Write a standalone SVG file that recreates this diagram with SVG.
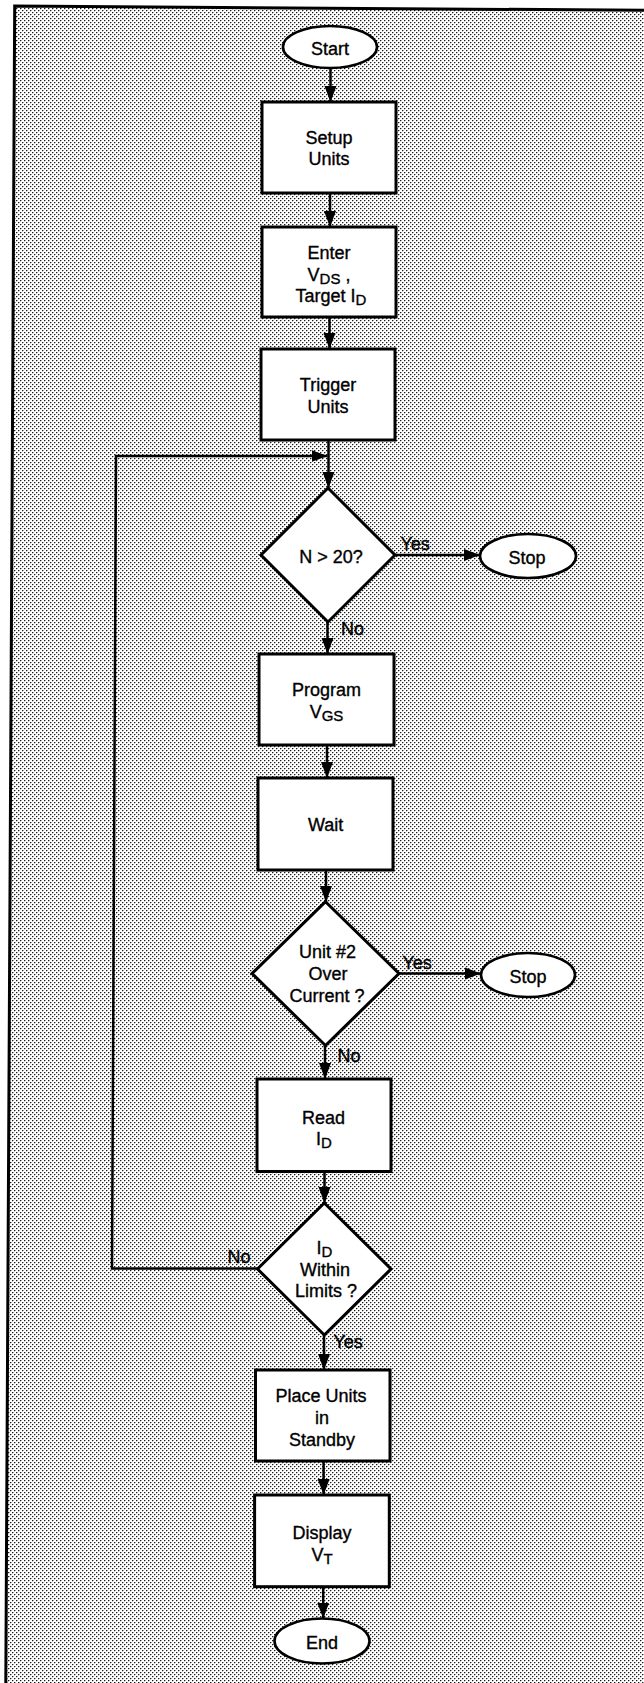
<svg xmlns="http://www.w3.org/2000/svg" width="644" height="1683" viewBox="0 0 644 1683">
  <defs>
    <!-- halftone screen used for the page background -->
    <pattern id="screen" width="4" height="4" patternUnits="userSpaceOnUse">
      <rect width="4" height="4" fill="#fff"/>
      <rect x="0" y="0" width="1" height="1" fill="#1a1a1a"/>
      <rect x="2" y="2" width="1" height="1" fill="#1a1a1a"/>
      <rect x="1" y="0" width="1" height="1" fill="#a8a8a8"/>
      <rect x="3" y="2" width="1" height="1" fill="#a8a8a8"/>
      <rect x="0" y="1" width="1" height="1" fill="#c8c8c8"/>
      <rect x="2" y="3" width="1" height="1" fill="#c8c8c8"/>
    </pattern>
    <marker id="arrow" markerUnits="userSpaceOnUse" markerWidth="17" markerHeight="13" refX="16" refY="6.5" orient="auto">
      <path d="M0,0.5 L16,6.5 L0,12.5 z" fill="#000"/>
    </marker>
    <style>
      .box { fill:#fff; stroke:#000; stroke-width:3; }
      .term { fill:#fff; stroke:#000; stroke-width:2.6; }
      .dec { fill:#fff; stroke:#000; stroke-width:3; stroke-linejoin:miter; }
      .link { fill:none; stroke:#000; stroke-width:2.5; }
      .frame { fill:none; stroke:#000; stroke-width:3; }
      text { font-family:"Liberation Sans", Arial, Helvetica, sans-serif; font-size:18px; fill:#000; stroke:#000; stroke-width:0.35; }
      .c { text-anchor:middle; }
      .e { text-anchor:end; }
      .sub { font-size:15px; }
    </style>
  </defs>

  <!-- page -->
  <rect width="644" height="1683" fill="#fff"/>
  <polygon points="14.7,6 644,10.3 644,1683 5.8,1683" fill="url(#screen)"/>
  <path class="frame" d="M5.8,1683 L14.7,6 L644,10.3"/>

  <!-- connectors -->
  <g id="connectors">
    <path class="link" d="M330.5,68 L330.5,102" marker-end="url(#arrow)"/>
    <path class="link" d="M330,193 L330,227" marker-end="url(#arrow)"/>
    <path class="link" d="M329.5,317 L329.5,349" marker-end="url(#arrow)"/>
    <path class="link" d="M328.5,440 L328.5,488" marker-end="url(#arrow)"/>
    <path class="link" d="M257.5,1268.5 L112,1268.5 L116,456 L327.5,456" marker-end="url(#arrow)"/>
    <path class="link" d="M395,555 L480,555" marker-end="url(#arrow)"/>
    <path class="link" d="M327.5,622 L327.5,654" marker-end="url(#arrow)"/>
    <path class="link" d="M327,745 L327,778" marker-end="url(#arrow)"/>
    <path class="link" d="M326,870 L326,902" marker-end="url(#arrow)"/>
    <path class="link" d="M399,973.5 L481,973.5" marker-end="url(#arrow)"/>
    <path class="link" d="M325,1045 L325,1079" marker-end="url(#arrow)"/>
    <path class="link" d="M324.5,1171 L324.5,1203" marker-end="url(#arrow)"/>
    <path class="link" d="M324,1335 L324,1370" marker-end="url(#arrow)"/>
    <path class="link" d="M323.6,1460 L323.6,1495" marker-end="url(#arrow)"/>
    <path class="link" d="M323.2,1586 L323.2,1618.5" marker-end="url(#arrow)"/>
    <text x="400.5" y="550">Yes</text>
    <text x="341" y="635">No</text>
    <text x="402.5" y="968.5">Yes</text>
    <text x="337.5" y="1061.5">No</text>
    <text class="e" x="250.5" y="1262.5">No</text>
    <text x="333.5" y="1348">Yes</text>
  </g>

  <g id="start">
    <ellipse class="term" cx="330" cy="47" rx="47" ry="21"/>
    <text class="c" x="330" y="55">Start</text>
  </g>

  <g id="setup-units">
    <rect class="box" x="262" y="102" width="134" height="91"/>
    <text class="c" x="329" y="143.5">Setup</text>
    <text class="c" x="329" y="165">Units</text>
  </g>

  <g id="enter-vds">
    <rect class="box" x="262" y="227" width="134" height="90"/>
    <text class="c" x="329" y="259">Enter</text>
    <text class="c" x="329" y="281">V<tspan class="sub" dy="3">DS</tspan><tspan dy="-3"> ,</tspan></text>
    <text class="c" x="331" y="302">Target I<tspan class="sub" dy="3">D</tspan></text>
  </g>

  <g id="trigger-units">
    <rect class="box" x="261" y="349" width="134" height="91"/>
    <text class="c" x="328" y="390.5">Trigger</text>
    <text class="c" x="328" y="412.5">Units</text>
  </g>

  <g id="check-count">
    <polygon class="dec" points="328,488 395,555 328,622 261,555"/>
    <text class="c" x="331" y="562.5">N &gt; 20?</text>
  </g>

  <g id="stop-count">
    <ellipse class="term" cx="528" cy="556" rx="48" ry="22"/>
    <text class="c" x="527" y="563.5">Stop</text>
  </g>

  <g id="program-vgs">
    <rect class="box" x="259" y="654" width="135" height="91"/>
    <text class="c" x="326.5" y="696">Program</text>
    <text class="c" x="326.5" y="718">V<tspan class="sub" dy="3">GS</tspan></text>
  </g>

  <g id="wait">
    <rect class="box" x="258" y="778" width="135" height="92"/>
    <text class="c" x="325.7" y="831">Wait</text>
  </g>

  <g id="check-overcurrent">
    <polygon class="dec" points="325.5,901.7 399,973.5 325.5,1045.5 252,973.5"/>
    <text class="c" x="327.5" y="958.3">Unit #2</text>
    <text class="c" x="328" y="980">Over</text>
    <text class="c" x="327" y="1001.7">Current ?</text>
  </g>

  <g id="stop-overcurrent">
    <ellipse class="term" cx="528" cy="975" rx="47" ry="22"/>
    <text class="c" x="528" y="982.5">Stop</text>
  </g>

  <g id="read-id">
    <rect class="box" x="257" y="1079" width="134" height="92.5"/>
    <text class="c" x="323.5" y="1123.5">Read</text>
    <text class="c" x="324" y="1145">I<tspan class="sub" dy="3">D</tspan></text>
  </g>

  <g id="check-limits">
    <polygon class="dec" points="324.3,1203 391,1269 324.3,1335 257.5,1269"/>
    <text class="c" x="324.5" y="1254">I<tspan class="sub" dy="3">D</tspan></text>
    <text class="c" x="325" y="1275.5">Within</text>
    <text class="c" x="326" y="1296.5">Limits ?</text>
  </g>

  <g id="standby">
    <rect class="box" x="255.5" y="1370" width="134.5" height="91"/>
    <text class="c" x="321" y="1401.5">Place Units</text>
    <text class="c" x="322" y="1423.5">in</text>
    <text class="c" x="322" y="1445.5">Standby</text>
  </g>

  <g id="display-vt">
    <rect class="box" x="254.6" y="1495" width="134.7" height="91.7"/>
    <text class="c" x="322" y="1539">Display</text>
    <text class="c" x="322" y="1560.5">V<tspan class="sub" dy="3">T</tspan></text>
  </g>

  <g id="end">
    <ellipse class="term" cx="322" cy="1641" rx="47.5" ry="22.5"/>
    <text class="c" x="322" y="1649">End</text>
  </g>
</svg>
